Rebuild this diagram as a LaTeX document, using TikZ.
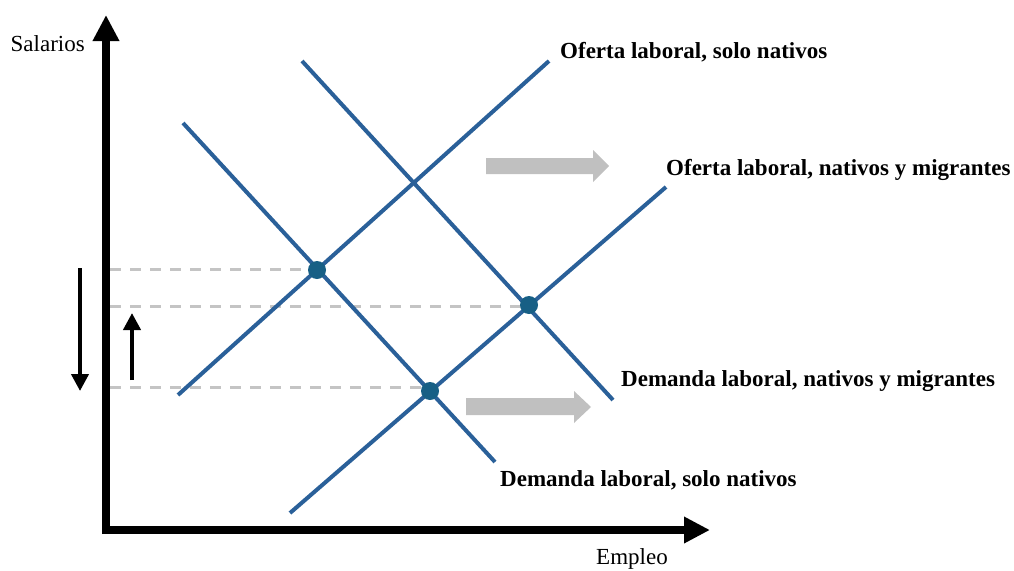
\documentclass[tikz,border=0pt]{standalone}
\usepackage{fontspec}
\setmainfont{Liberation Serif}
\usetikzlibrary{arrows.meta}
\definecolor{curve}{HTML}{2A6099}
\definecolor{dotc}{HTML}{175F85}
\definecolor{shift}{HTML}{C0C0C0}
\definecolor{guide}{HTML}{C4C4C4}
\tikzset{
  curveline/.style={draw=curve,line width=4pt},
  guideline/.style={draw=guide,line width=3pt,dash pattern=on 11pt off 9pt},
  eqdot/.style={circle,fill=dotc,inner sep=0pt,minimum size=18pt},
  lbl/.style={font=\fontsize{23}{26}\selectfont\bfseries,anchor=west,inner sep=0pt},
  axlbl/.style={font=\fontsize{23}{26}\selectfont,inner sep=0pt},
  axis/.style={line width=8pt,-{Triangle[length=26pt,width=25pt]}},
  smallarrow/.style={line width=4pt,-{Triangle[length=17pt,width=17pt]}},
  blockarrow/.style={fill=shift,draw=none},
}
\begin{document}
\begin{tikzpicture}[x=1pt,y=-1pt]
\useasboundingbox (0,0) rectangle (1014,570);
% axes
\coordinate (O) at (106,530);
\coordinate (ytip) at (106,15);
\coordinate (xtip) at (710,530);
\draw[axis] (106,534) -- (ytip);
\draw[axis] (102,530) -- (xtip);
\node[axlbl,anchor=east] (sal) at (85,44) {Salarios};
\node[axlbl] (emp) at (632,559) {Empleo};
% equilibrium points
\coordinate (E1) at (317,270);
\coordinate (E2) at (529,305);
\coordinate (E3) at (430,391);
% guide lines
\coordinate (g1) at (110,269);
\coordinate (g2) at (110,306);
\coordinate (g3) at (110,387);
\draw[guideline] (g1) -- (g1 -| E1);
\draw[guideline] (g2) -- (g2 -| E2);
\draw[guideline] (g3) -- (g3 -| E3);
% curves
\coordinate (S1a) at (178,395); \coordinate (S1b) at (549,61);
\coordinate (S2a) at (290,513); \coordinate (S2b) at (666,187);
\coordinate (D1a) at (183,123); \coordinate (D1b) at (495,462);
\coordinate (D2a) at (302,61);  \coordinate (D2b) at (613,400);
\draw[curveline] (S1a) -- (S1b);
\draw[curveline] (S2a) -- (S2b);
\draw[curveline] (D1a) -- (D1b);
\draw[curveline] (D2a) -- (D2b);
\node[eqdot] (p1) at (E1) {};
\node[eqdot] (p2) at (E2) {};
\node[eqdot] (p3) at (E3) {};
% labels
\node[lbl] (l1) at (560,52) {Oferta laboral, solo nativos};
\node[lbl] (l2) at (666,170) {Oferta laboral, nativos y migrantes};
\node[lbl] (l3) at (621,381) {Demanda laboral, nativos y migrantes};
\node[lbl] (l4) at (500,480) {Demanda laboral, solo nativos};
% shift arrows
\fill[blockarrow] (486,158) -- (593,158) -- (593,150) -- (609,166) -- (593,182) -- (593,174) -- (486,174) -- cycle;
\fill[blockarrow] (466,398) -- (574,398) -- (574,391) -- (591,407) -- (574,423) -- (574,415) -- (466,415) -- cycle;
% wage change arrows
\coordinate (d1) at (80,268); \coordinate (d2) at (80,391);
\coordinate (u1) at (132,380); \coordinate (u2) at (132,313);
\draw[smallarrow] (d1) -- (d2);
\draw[smallarrow] (u1) -- (u2);
\end{tikzpicture}
\end{document}
